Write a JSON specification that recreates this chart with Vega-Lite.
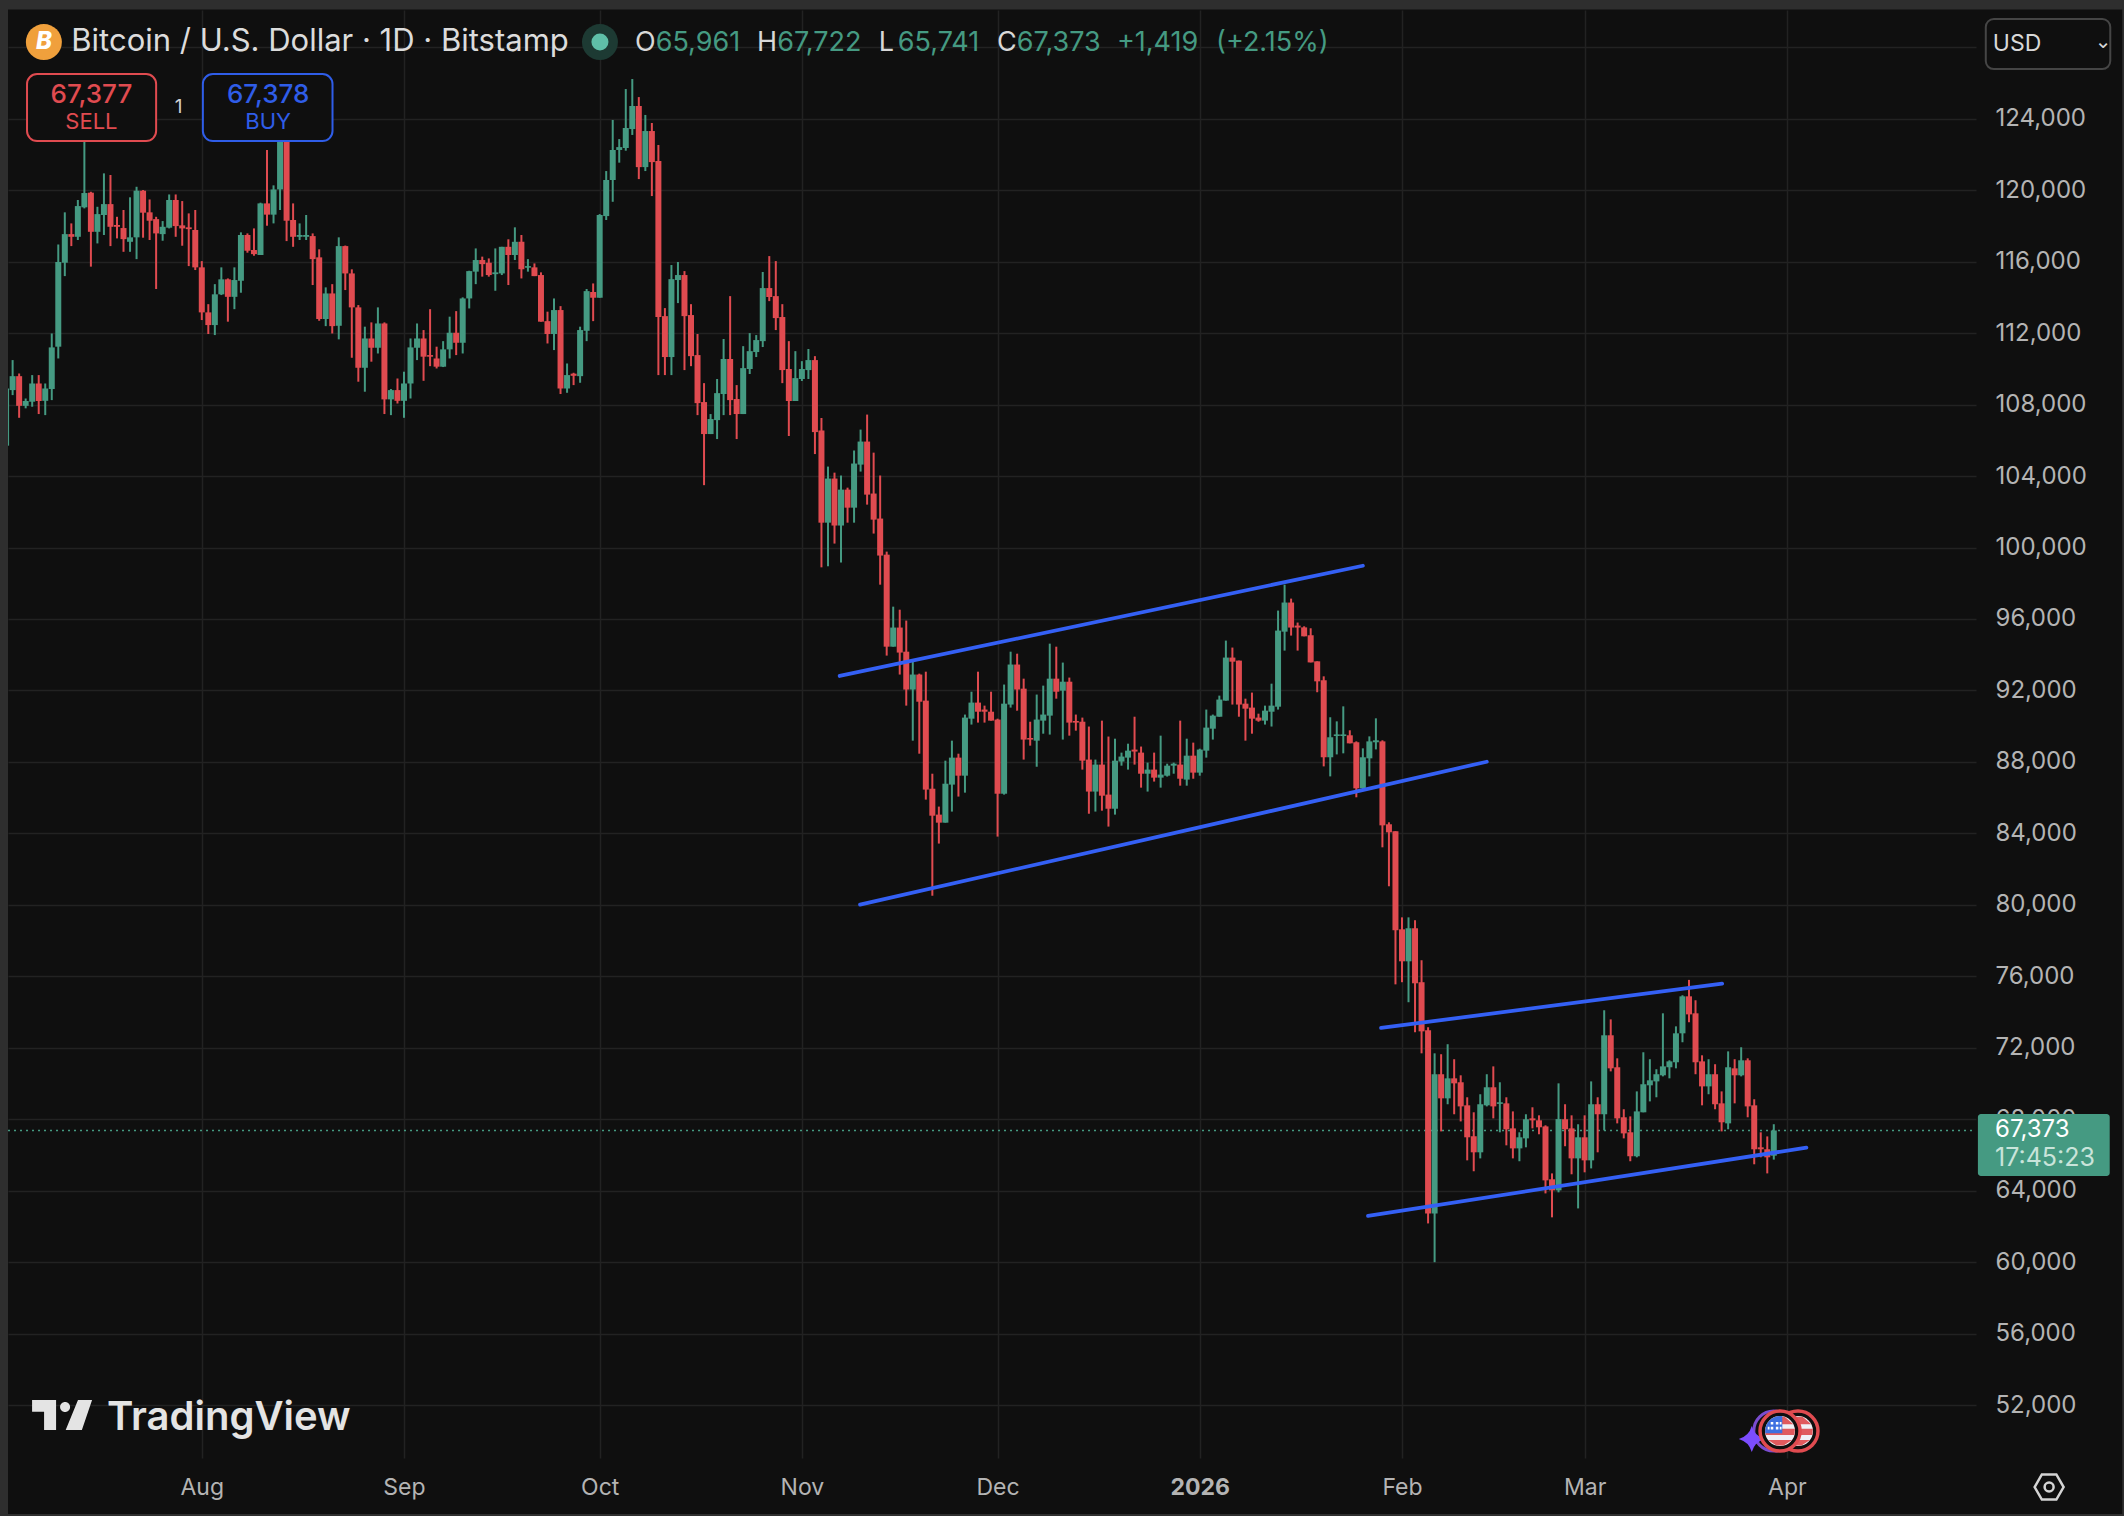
{
  "$schema": "https://vega.github.io/schema/vega-lite/v6.json",
  "width": 1968,
  "height": 1448,
  "autosize": "none",
  "padding": {"left": 8, "top": 10, "right": 148, "bottom": 58},
  "background": "#0f0f0f",
  "config": {"view": {"stroke": null}, "font": "Inter", "text": {"font": "Inter"}},
  "datasets": {
    "candles": [
      {"d":"2025-07-02","o":105700,"h":109800,"l":105100,"c":108900},
      {"d":"2025-07-03","o":108810,"h":110490,"l":108530,"c":109590},
      {"d":"2025-07-04","o":109590,"h":109740,"l":107260,"c":107930},
      {"d":"2025-07-05","o":107930,"h":108340,"l":107790,"c":108200},
      {"d":"2025-07-06","o":108160,"h":109650,"l":107880,"c":109180},
      {"d":"2025-07-07","o":109180,"h":109650,"l":107470,"c":108200},
      {"d":"2025-07-08","o":108210,"h":109180,"l":107410,"c":108900},
      {"d":"2025-07-09","o":108870,"h":111980,"l":108250,"c":111200},
      {"d":"2025-07-10","o":111240,"h":116960,"l":110580,"c":115980},
      {"d":"2025-07-11","o":115940,"h":118760,"l":115190,"c":117540},
      {"d":"2025-07-12","o":117540,"h":118140,"l":116870,"c":117390},
      {"d":"2025-07-13","o":117390,"h":119450,"l":117210,"c":119110},
      {"d":"2025-07-14","o":119040,"h":122990,"l":118980,"c":119840},
      {"d":"2025-07-15","o":119860,"h":119910,"l":115720,"c":117670},
      {"d":"2025-07-16","o":117670,"h":119070,"l":117020,"c":118660},
      {"d":"2025-07-17","o":118610,"h":120940,"l":117490,"c":119220},
      {"d":"2025-07-18","o":119220,"h":120850,"l":116870,"c":117950},
      {"d":"2025-07-19","o":118050,"h":118510,"l":117300,"c":117950},
      {"d":"2025-07-20","o":117880,"h":118890,"l":116550,"c":117260},
      {"d":"2025-07-21","o":117110,"h":119600,"l":116550,"c":117360},
      {"d":"2025-07-22","o":117360,"h":120190,"l":116140,"c":119970},
      {"d":"2025-07-23","o":119970,"h":120010,"l":117340,"c":118740},
      {"d":"2025-07-24","o":118760,"h":119480,"l":117210,"c":118290},
      {"d":"2025-07-25","o":118380,"h":118510,"l":114470,"c":117580},
      {"d":"2025-07-26","o":117540,"h":118270,"l":117170,"c":117950},
      {"d":"2025-07-27","o":117900,"h":119760,"l":117860,"c":119450},
      {"d":"2025-07-28","o":119450,"h":119760,"l":117390,"c":117990},
      {"d":"2025-07-29","o":118030,"h":119390,"l":116890,"c":117860},
      {"d":"2025-07-30","o":117920,"h":118700,"l":115750,"c":117820},
      {"d":"2025-07-31","o":117770,"h":118890,"l":115530,"c":115680},
      {"d":"2025-08-01","o":115680,"h":116030,"l":112730,"c":113160},
      {"d":"2025-08-02","o":113160,"h":113620,"l":111950,"c":112450},
      {"d":"2025-08-03","o":112450,"h":114740,"l":111890,"c":114170},
      {"d":"2025-08-04","o":114170,"h":115680,"l":114130,"c":115010},
      {"d":"2025-08-05","o":115010,"h":115060,"l":112640,"c":114030},
      {"d":"2025-08-06","o":114030,"h":115680,"l":113340,"c":114970},
      {"d":"2025-08-07","o":114930,"h":117640,"l":114260,"c":117490},
      {"d":"2025-08-08","o":117490,"h":117580,"l":116500,"c":116610},
      {"d":"2025-08-09","o":116650,"h":117860,"l":116330,"c":116420},
      {"d":"2025-08-10","o":116370,"h":119300,"l":116370,"c":119260},
      {"d":"2025-08-11","o":119260,"h":122250,"l":118010,"c":118630},
      {"d":"2025-08-12","o":118630,"h":120270,"l":118140,"c":120040},
      {"d":"2025-08-13","o":120040,"h":123550,"l":118890,"c":123000},
      {"d":"2025-08-14","o":123000,"h":123550,"l":117150,"c":118290},
      {"d":"2025-08-15","o":118330,"h":119260,"l":116830,"c":117390},
      {"d":"2025-08-16","o":117390,"h":118140,"l":117210,"c":117490},
      {"d":"2025-08-17","o":117390,"h":118610,"l":117210,"c":117490},
      {"d":"2025-08-18","o":117430,"h":117580,"l":114690,"c":116140},
      {"d":"2025-08-19","o":116240,"h":116690,"l":112690,"c":112790},
      {"d":"2025-08-20","o":112790,"h":114560,"l":112390,"c":114220},
      {"d":"2025-08-21","o":114220,"h":114740,"l":111980,"c":112390},
      {"d":"2025-08-22","o":112410,"h":117360,"l":111650,"c":116870},
      {"d":"2025-08-23","o":116870,"h":116900,"l":114410,"c":115340},
      {"d":"2025-08-24","o":115340,"h":115570,"l":110620,"c":113440},
      {"d":"2025-08-25","o":113440,"h":113570,"l":109280,"c":110060},
      {"d":"2025-08-26","o":110060,"h":112360,"l":108720,"c":111700},
      {"d":"2025-08-27","o":111700,"h":112600,"l":110400,"c":111180},
      {"d":"2025-08-28","o":111180,"h":113440,"l":110860,"c":112540},
      {"d":"2025-08-29","o":112540,"h":112600,"l":107470,"c":108290},
      {"d":"2025-08-30","o":108290,"h":108870,"l":107410,"c":108810},
      {"d":"2025-08-31","o":108810,"h":109460,"l":108060,"c":108210},
      {"d":"2025-09-01","o":108210,"h":109840,"l":107260,"c":109180},
      {"d":"2025-09-02","o":109180,"h":111700,"l":108340,"c":111200},
      {"d":"2025-09-03","o":111180,"h":112540,"l":110490,"c":111700},
      {"d":"2025-09-04","o":111700,"h":112170,"l":109330,"c":110680},
      {"d":"2025-09-05","o":110770,"h":113340,"l":110150,"c":110680},
      {"d":"2025-09-06","o":110580,"h":111240,"l":110020,"c":110120},
      {"d":"2025-09-07","o":110120,"h":111550,"l":110100,"c":111090},
      {"d":"2025-09-08","o":111090,"h":112920,"l":110580,"c":112020},
      {"d":"2025-09-09","o":112020,"h":113230,"l":110770,"c":111460},
      {"d":"2025-09-10","o":111460,"h":114000,"l":110860,"c":113940},
      {"d":"2025-09-11","o":113940,"h":115490,"l":113380,"c":115470},
      {"d":"2025-09-12","o":115440,"h":116740,"l":114740,"c":116090},
      {"d":"2025-09-13","o":116090,"h":116280,"l":115160,"c":115860},
      {"d":"2025-09-14","o":115940,"h":116180,"l":115160,"c":115250},
      {"d":"2025-09-15","o":115300,"h":116740,"l":114370,"c":115400},
      {"d":"2025-09-16","o":115340,"h":116830,"l":115250,"c":116830},
      {"d":"2025-09-17","o":116830,"h":117250,"l":114690,"c":116370},
      {"d":"2025-09-18","o":116370,"h":117920,"l":116090,"c":117110},
      {"d":"2025-09-19","o":117110,"h":117490,"l":115060,"c":115580},
      {"d":"2025-09-20","o":115660,"h":116140,"l":115440,"c":115750},
      {"d":"2025-09-21","o":115680,"h":115900,"l":115190,"c":115190},
      {"d":"2025-09-22","o":115250,"h":115400,"l":112640,"c":112640},
      {"d":"2025-09-23","o":112670,"h":113200,"l":111420,"c":111950},
      {"d":"2025-09-24","o":111950,"h":113940,"l":111050,"c":113290},
      {"d":"2025-09-25","o":113290,"h":113510,"l":108590,"c":108900},
      {"d":"2025-09-26","o":108900,"h":110300,"l":108660,"c":109650},
      {"d":"2025-09-27","o":109730,"h":109780,"l":109090,"c":109610},
      {"d":"2025-09-28","o":109590,"h":112360,"l":109220,"c":112170},
      {"d":"2025-09-29","o":112130,"h":114470,"l":111550,"c":114350},
      {"d":"2025-09-30","o":114300,"h":114780,"l":112670,"c":113980},
      {"d":"2025-10-01","o":113980,"h":118660,"l":113980,"c":118610},
      {"d":"2025-10-02","o":118550,"h":121070,"l":118330,"c":120570},
      {"d":"2025-10-03","o":120570,"h":123930,"l":119350,"c":122250},
      {"d":"2025-10-04","o":122250,"h":122860,"l":121540,"c":122410},
      {"d":"2025-10-05","o":122360,"h":125660,"l":122210,"c":123480},
      {"d":"2025-10-06","o":123420,"h":126220,"l":123090,"c":124710},
      {"d":"2025-10-07","o":124710,"h":125210,"l":120620,"c":121290},
      {"d":"2025-10-08","o":121290,"h":124210,"l":121070,"c":123310},
      {"d":"2025-10-09","o":123310,"h":123760,"l":119670,"c":121570},
      {"d":"2025-10-10","o":121630,"h":122530,"l":109650,"c":112900},
      {"d":"2025-10-11","o":112950,"h":113400,"l":109650,"c":110660},
      {"d":"2025-10-12","o":110660,"h":115810,"l":109650,"c":115020},
      {"d":"2025-10-13","o":114970,"h":115980,"l":113680,"c":115250},
      {"d":"2025-10-14","o":115250,"h":115470,"l":109930,"c":112950},
      {"d":"2025-10-15","o":113010,"h":113620,"l":110150,"c":110710},
      {"d":"2025-10-16","o":110770,"h":111950,"l":107410,"c":108080},
      {"d":"2025-10-17","o":108140,"h":109200,"l":103490,"c":106350},
      {"d":"2025-10-18","o":106350,"h":107470,"l":106350,"c":107190},
      {"d":"2025-10-19","o":107130,"h":109430,"l":106070,"c":108640},
      {"d":"2025-10-20","o":108590,"h":111670,"l":107410,"c":110550},
      {"d":"2025-10-21","o":110550,"h":114070,"l":107410,"c":108250},
      {"d":"2025-10-22","o":108310,"h":109090,"l":106070,"c":107470},
      {"d":"2025-10-23","o":107470,"h":111270,"l":107470,"c":110040},
      {"d":"2025-10-24","o":109990,"h":112000,"l":109710,"c":110990},
      {"d":"2025-10-25","o":110940,"h":111890,"l":110660,"c":111610},
      {"d":"2025-10-26","o":111550,"h":115420,"l":111220,"c":114520},
      {"d":"2025-10-27","o":114520,"h":116310,"l":113790,"c":114020},
      {"d":"2025-10-28","o":114070,"h":116030,"l":112170,"c":112840},
      {"d":"2025-10-29","o":112900,"h":113620,"l":109200,"c":109930},
      {"d":"2025-10-30","o":109990,"h":111550,"l":106240,"c":108200},
      {"d":"2025-10-31","o":108200,"h":110990,"l":108200,"c":109480},
      {"d":"2025-11-01","o":109430,"h":110430,"l":109320,"c":109990},
      {"d":"2025-11-02","o":109930,"h":111110,"l":109430,"c":110490},
      {"d":"2025-11-03","o":110490,"h":110710,"l":105230,"c":106460},
      {"d":"2025-11-04","o":106550,"h":107250,"l":98890,"c":101390},
      {"d":"2025-11-05","o":101390,"h":104530,"l":98950,"c":103860},
      {"d":"2025-11-06","o":103860,"h":104190,"l":100220,"c":101230},
      {"d":"2025-11-07","o":101230,"h":104030,"l":99160,"c":103240},
      {"d":"2025-11-08","o":103240,"h":103350,"l":101390,"c":102230},
      {"d":"2025-11-09","o":102230,"h":105430,"l":101390,"c":104700},
      {"d":"2025-11-10","o":104640,"h":106600,"l":104250,"c":105930},
      {"d":"2025-11-11","o":105930,"h":107440,"l":102400,"c":102960},
      {"d":"2025-11-12","o":103020,"h":105310,"l":100780,"c":101560},
      {"d":"2025-11-13","o":101620,"h":104030,"l":97920,"c":99550},
      {"d":"2025-11-14","o":99600,"h":99770,"l":93950,"c":94450},
      {"d":"2025-11-15","o":94450,"h":96690,"l":94450,"c":95520},
      {"d":"2025-11-16","o":95520,"h":96520,"l":92890,"c":94120},
      {"d":"2025-11-17","o":94170,"h":95910,"l":91150,"c":92050},
      {"d":"2025-11-18","o":92050,"h":93730,"l":89190,"c":92890},
      {"d":"2025-11-19","o":92890,"h":92940,"l":88460,"c":91370},
      {"d":"2025-11-20","o":91430,"h":93050,"l":85890,"c":86450},
      {"d":"2025-11-21","o":86500,"h":87340,"l":80510,"c":84990},
      {"d":"2025-11-22","o":85050,"h":85500,"l":83430,"c":84600},
      {"d":"2025-11-23","o":84600,"h":88070,"l":84600,"c":86780},
      {"d":"2025-11-24","o":86730,"h":89190,"l":85220,"c":88240},
      {"d":"2025-11-25","o":88240,"h":88460,"l":86060,"c":87230},
      {"d":"2025-11-26","o":87230,"h":90650,"l":86280,"c":90480},
      {"d":"2025-11-27","o":90420,"h":91930,"l":90090,"c":91320},
      {"d":"2025-11-28","o":91320,"h":93050,"l":90200,"c":90810},
      {"d":"2025-11-29","o":90930,"h":91150,"l":90200,"c":90810},
      {"d":"2025-11-30","o":90810,"h":91930,"l":90310,"c":90310},
      {"d":"2025-12-01","o":90370,"h":90420,"l":83820,"c":86220},
      {"d":"2025-12-02","o":86220,"h":92330,"l":86170,"c":91260},
      {"d":"2025-12-03","o":91210,"h":94170,"l":91040,"c":93450},
      {"d":"2025-12-04","o":93450,"h":94060,"l":90870,"c":92050},
      {"d":"2025-12-05","o":92100,"h":92660,"l":88130,"c":89250},
      {"d":"2025-12-06","o":89340,"h":90250,"l":88910,"c":89250},
      {"d":"2025-12-07","o":89190,"h":91770,"l":87730,"c":90370},
      {"d":"2025-12-08","o":90310,"h":92270,"l":89580,"c":90650},
      {"d":"2025-12-09","o":90590,"h":94620,"l":89530,"c":92660},
      {"d":"2025-12-10","o":92660,"h":94450,"l":91540,"c":91930},
      {"d":"2025-12-11","o":91990,"h":93560,"l":89250,"c":92490},
      {"d":"2025-12-12","o":92490,"h":92720,"l":89470,"c":90200},
      {"d":"2025-12-13","o":90290,"h":90650,"l":89750,"c":90200},
      {"d":"2025-12-14","o":90250,"h":90480,"l":87570,"c":88070},
      {"d":"2025-12-15","o":88130,"h":89980,"l":85100,"c":86340},
      {"d":"2025-12-16","o":86340,"h":88130,"l":85220,"c":87850},
      {"d":"2025-12-17","o":87850,"h":90310,"l":85270,"c":86110},
      {"d":"2025-12-18","o":86170,"h":89420,"l":84380,"c":85380},
      {"d":"2025-12-19","o":85380,"h":89300,"l":85050,"c":88070},
      {"d":"2025-12-20","o":88020,"h":88520,"l":87790,"c":88300},
      {"d":"2025-12-21","o":88240,"h":89020,"l":87570,"c":88630},
      {"d":"2025-12-22","o":88690,"h":90530,"l":87850,"c":88580},
      {"d":"2025-12-23","o":88520,"h":88860,"l":86560,"c":87340},
      {"d":"2025-12-24","o":87340,"h":87960,"l":86340,"c":87570},
      {"d":"2025-12-25","o":87570,"h":88520,"l":86900,"c":87120},
      {"d":"2025-12-26","o":87120,"h":89470,"l":86560,"c":87290},
      {"d":"2025-12-27","o":87230,"h":87900,"l":87180,"c":87790},
      {"d":"2025-12-28","o":87790,"h":87960,"l":87340,"c":87900},
      {"d":"2025-12-29","o":87850,"h":90310,"l":86670,"c":87060},
      {"d":"2025-12-30","o":87010,"h":89300,"l":86670,"c":88350},
      {"d":"2025-12-31","o":88350,"h":89080,"l":87060,"c":87400},
      {"d":"2026-01-01","o":87400,"h":88740,"l":87230,"c":88690},
      {"d":"2026-01-02","o":88630,"h":90930,"l":88240,"c":89920},
      {"d":"2026-01-03","o":89860,"h":90650,"l":89250,"c":90590},
      {"d":"2026-01-04","o":90530,"h":91710,"l":90530,"c":91490},
      {"d":"2026-01-05","o":91430,"h":94790,"l":91430,"c":93840},
      {"d":"2026-01-06","o":93840,"h":94400,"l":91210,"c":93610},
      {"d":"2026-01-07","o":93670,"h":93670,"l":90530,"c":91210},
      {"d":"2026-01-08","o":91260,"h":91540,"l":89190,"c":90980},
      {"d":"2026-01-09","o":91040,"h":91880,"l":89580,"c":90420},
      {"d":"2026-01-10","o":90480,"h":90700,"l":90250,"c":90310},
      {"d":"2026-01-11","o":90310,"h":91150,"l":90090,"c":90870},
      {"d":"2026-01-12","o":90810,"h":92380,"l":89980,"c":91150},
      {"d":"2026-01-13","o":91090,"h":96470,"l":90930,"c":95350},
      {"d":"2026-01-14","o":95290,"h":97920,"l":94230,"c":96920},
      {"d":"2026-01-15","o":96920,"h":97140,"l":95070,"c":95520},
      {"d":"2026-01-16","o":95630,"h":95800,"l":94230,"c":95520},
      {"d":"2026-01-17","o":95530,"h":95590,"l":95030,"c":95030},
      {"d":"2026-01-18","o":95090,"h":95480,"l":93570,"c":93570},
      {"d":"2026-01-19","o":93630,"h":93630,"l":91900,"c":92510},
      {"d":"2026-01-20","o":92570,"h":92790,"l":87750,"c":88260},
      {"d":"2026-01-21","o":88260,"h":90500,"l":87190,"c":89380},
      {"d":"2026-01-22","o":89450,"h":90270,"l":88420,"c":89540},
      {"d":"2026-01-23","o":89450,"h":91110,"l":88480,"c":89540},
      {"d":"2026-01-24","o":89490,"h":89770,"l":89040,"c":89040},
      {"d":"2026-01-25","o":89100,"h":89150,"l":86020,"c":86520},
      {"d":"2026-01-26","o":86520,"h":88760,"l":86410,"c":88260},
      {"d":"2026-01-27","o":88200,"h":89430,"l":87190,"c":89150},
      {"d":"2026-01-28","o":89100,"h":90440,"l":88700,"c":89210},
      {"d":"2026-01-29","o":89150,"h":89210,"l":83220,"c":84450},
      {"d":"2026-01-30","o":84510,"h":84620,"l":81040,"c":84060},
      {"d":"2026-01-31","o":84120,"h":84120,"l":75550,"c":78580},
      {"d":"2026-02-01","o":78630,"h":79300,"l":75670,"c":76840},
      {"d":"2026-02-02","o":76840,"h":79300,"l":74550,"c":78690},
      {"d":"2026-02-03","o":78690,"h":79140,"l":72870,"c":75610},
      {"d":"2026-02-04","o":75670,"h":76900,"l":71690,"c":72920},
      {"d":"2026-02-05","o":72980,"h":73150,"l":62170,"c":62730},
      {"d":"2026-02-06","o":62730,"h":71690,"l":60000,"c":70520},
      {"d":"2026-02-07","o":70520,"h":71640,"l":67320,"c":69170},
      {"d":"2026-02-08","o":69170,"h":72200,"l":68840,"c":70290},
      {"d":"2026-02-09","o":70290,"h":71360,"l":68280,"c":70010},
      {"d":"2026-02-10","o":70070,"h":70460,"l":67880,"c":68720},
      {"d":"2026-02-11","o":68780,"h":69230,"l":65700,"c":66990},
      {"d":"2026-02-12","o":67050,"h":68390,"l":65090,"c":66150},
      {"d":"2026-02-13","o":66150,"h":69400,"l":65810,"c":68840},
      {"d":"2026-02-14","o":68780,"h":70520,"l":68720,"c":69790},
      {"d":"2026-02-15","o":69790,"h":70960,"l":68050,"c":68720},
      {"d":"2026-02-16","o":68860,"h":70070,"l":67270,"c":68950},
      {"d":"2026-02-17","o":68890,"h":69230,"l":66540,"c":67440},
      {"d":"2026-02-18","o":67490,"h":68440,"l":65810,"c":66370},
      {"d":"2026-02-19","o":66370,"h":67270,"l":65650,"c":66990},
      {"d":"2026-02-20","o":66930,"h":68280,"l":66430,"c":68000},
      {"d":"2026-02-21","o":68050,"h":68670,"l":67490,"c":67940},
      {"d":"2026-02-22","o":67940,"h":68220,"l":67160,"c":67550},
      {"d":"2026-02-23","o":67600,"h":67660,"l":63850,"c":64580},
      {"d":"2026-02-24","o":64640,"h":64970,"l":62510,"c":64020},
      {"d":"2026-02-25","o":64020,"h":70010,"l":63910,"c":68010},
      {"d":"2026-02-26","o":68000,"h":68840,"l":66490,"c":67440},
      {"d":"2026-02-27","o":67490,"h":68220,"l":64920,"c":65810},
      {"d":"2026-02-28","o":65810,"h":67720,"l":63010,"c":66990},
      {"d":"2026-03-01","o":66990,"h":68220,"l":65030,"c":65700},
      {"d":"2026-03-02","o":65700,"h":70120,"l":65250,"c":68840},
      {"d":"2026-03-03","o":68840,"h":69230,"l":66150,"c":68280},
      {"d":"2026-03-04","o":68280,"h":74100,"l":67380,"c":72700},
      {"d":"2026-03-05","o":72700,"h":73590,"l":70680,"c":70850},
      {"d":"2026-03-06","o":70910,"h":71410,"l":67770,"c":68050},
      {"d":"2026-03-07","o":68110,"h":68560,"l":66930,"c":67210},
      {"d":"2026-03-08","o":67270,"h":68160,"l":65650,"c":65930},
      {"d":"2026-03-09","o":65930,"h":69560,"l":65870,"c":68440},
      {"d":"2026-03-10","o":68390,"h":71750,"l":68390,"c":69960},
      {"d":"2026-03-11","o":69900,"h":71360,"l":69000,"c":70180},
      {"d":"2026-03-12","o":70120,"h":70800,"l":69230,"c":70520},
      {"d":"2026-03-13","o":70460,"h":73930,"l":70400,"c":70960},
      {"d":"2026-03-14","o":70910,"h":71300,"l":70290,"c":71240},
      {"d":"2026-03-15","o":71190,"h":73200,"l":70850,"c":72810},
      {"d":"2026-03-16","o":72810,"h":74940,"l":72310,"c":74880},
      {"d":"2026-03-17","o":74880,"h":75800,"l":73430,"c":73870},
      {"d":"2026-03-18","o":73930,"h":74660,"l":70520,"c":71190},
      {"d":"2026-03-19","o":71240,"h":71580,"l":68780,"c":69840},
      {"d":"2026-03-20","o":69840,"h":71360,"l":69400,"c":70520},
      {"d":"2026-03-21","o":70520,"h":71080,"l":68560,"c":68840},
      {"d":"2026-03-22","o":68890,"h":69560,"l":67320,"c":67830},
      {"d":"2026-03-23","o":67770,"h":71800,"l":67440,"c":70910},
      {"d":"2026-03-24","o":70850,"h":71360,"l":68890,"c":70460},
      {"d":"2026-03-25","o":70460,"h":72030,"l":70400,"c":71300},
      {"d":"2026-03-26","o":71300,"h":71410,"l":68110,"c":68720},
      {"d":"2026-03-27","o":68780,"h":69120,"l":65480,"c":66320},
      {"d":"2026-03-28","o":66430,"h":67270,"l":65870,"c":66320},
      {"d":"2026-03-29","o":66320,"h":67040,"l":64970,"c":65870},
      {"d":"2026-03-30","o":65961,"h":67722,"l":65741,"c":67373}
    ],
    "trendlines": [
      {"id":"upper1","d":"2025-11-06T19:00:00Z","p":92810},
      {"id":"upper1","d":"2026-01-26T00:00:00Z","p":98980},
      {"id":"lower1","d":"2025-11-09T22:00:00Z","p":80010},
      {"id":"lower1","d":"2026-02-14T00:00:00Z","p":88010},
      {"id":"upper2","d":"2026-01-28T19:00:00Z","p":73110},
      {"id":"upper2","d":"2026-03-22T02:00:00Z","p":75590},
      {"id":"lower2","d":"2026-01-26T19:00:00Z","p":62590},
      {"id":"lower2","d":"2026-04-04T00:00:00Z","p":66410}
    ],
    "frame": [
      {"d":"2025-06-28","d2":"2025-07-02T07:00:00Z","p":45000,"p2":131500},
      {"d":"2025-06-28","d2":"2026-06-01","p":130110,"p2":131500},
      {"d":"2026-05-22T10:00:00Z","d2":"2026-06-01","p":45000,"p2":131500},
      {"d":"2025-06-28","d2":"2026-06-01","p":45000,"p2":45905}
    ],
    "boxes": [
      {"kind":"sell","d":"2025-07-05T05:00:00Z","d2":"2025-07-25","p":122750,"p2":126500},
      {"kind":"buy","d":"2025-08-01T04:00:00Z","d2":"2025-08-21T01:00:00Z","p":122750,"p2":126500},
      {"kind":"usd","d":"2026-05-01T12:00:00Z","d2":"2026-05-20T14:00:00Z","p":126780,"p2":129580},
      {"kind":"tag","d":"2026-04-30T07:00:00Z","d2":"2026-05-20T12:00:00Z","p":64820,"p2":68290}
    ],
    "labels": [
      {"kind":"last","d":"2025-07-02T07:00:00Z","d2":"2026-04-30","p":67373},
      {"kind":"title","d":"2025-07-12","p":128290,"t":"Bitcoin / U.S. Dollar · 1D · Bitstamp"},
      {"kind":"coin","d":"2025-07-07T19:00:00Z","p":128290},
      {"kind":"coinGlyph","d":"2025-07-07T19:00:00Z","p":128290,"t":"B"},
      {"kind":"status","d":"2025-10-01T01:00:00Z","p":128290},
      {"kind":"ohlcLetter","d":"2025-10-06T10:00:00Z","p":128240,"t":"O"},
      {"kind":"ohlcValue","d":"2025-10-09T14:00:00Z","p":128240,"t":"65,961"},
      {"kind":"ohlcLetter","d":"2025-10-25T03:00:00Z","p":128240,"t":"H"},
      {"kind":"ohlcValue","d":"2025-10-28T05:00:00Z","p":128240,"t":"67,722"},
      {"kind":"ohlcLetter","d":"2025-11-12T19:00:00Z","p":128240,"t":"L"},
      {"kind":"ohlcValue","d":"2025-11-15T17:00:00Z","p":128240,"t":"65,741"},
      {"kind":"ohlcLetter","d":"2025-11-30T22:00:00Z","p":128240,"t":"C"},
      {"kind":"ohlcValue","d":"2025-12-03T23:00:00Z","p":128240,"t":"67,373"},
      {"kind":"ohlcValue","d":"2025-12-19T07:00:00Z","p":128240,"t":"+1,419"},
      {"kind":"ohlcValue","d":"2026-01-03T12:00:00Z","p":128240,"t":"(+2.15%)"},
      {"kind":"sellPrice","d":"2025-07-15T02:00:00Z","p":125330,"t":"67,377"},
      {"kind":"sellText","d":"2025-07-15T02:00:00Z","p":123820,"t":"SELL"},
      {"kind":"buyPrice","d":"2025-08-11T04:00:00Z","p":125330,"t":"67,378"},
      {"kind":"buyText","d":"2025-08-11T04:00:00Z","p":123820,"t":"BUY"},
      {"kind":"qty","d":"2025-07-28T11:00:00Z","p":124660,"t":"1"},
      {"kind":"usd","d":"2026-05-02T14:00:00Z","p":128180,"t":"USD"},
      {"kind":"chevron","d":"2026-05-19T12:00:00Z","p":128300,"t":"⌄"},
      {"kind":"tagPrice","d":"2026-05-02T22:00:00Z","p":67373,"t":"67,373"},
      {"kind":"tagClock","d":"2026-05-02T22:00:00Z","p":65830,"t":"17:45:23"},
      {"kind":"logo","d":"2025-07-10T14:00:00Z","p":51445},
      {"kind":"brand","d":"2025-07-17T11:00:00Z","p":50606,"t":"TradingView"},
      {"kind":"sparkle","d":"2026-03-26T15:00:00Z","p":50103},
      {"kind":"ringPurple","d":"2026-03-30T00:00:00Z","p":50550},
      {"kind":"ringBack","d":"2026-04-02T17:00:00Z","p":50550},
      {"kind":"flagBack","d":"2026-04-02T17:00:00Z","p":50550},
      {"kind":"ringFront","d":"2026-03-30T23:00:00Z","p":50550},
      {"kind":"flagFront","d":"2026-03-30T23:00:00Z","p":50550},
      {"kind":"canton","d":"2026-03-30T23:00:00Z","p":50550},
      {"kind":"gear","d":"2026-05-11T05:00:00Z","p":47416}
    ]
  },
  "encoding": {
    "x": {
      "field": "d",
      "type": "temporal",
      "title": null,
      "scale": {"type": "utc", "padding": 0, "domain": ["2025-07-02T07:00:00Z", "2026-04-30T00:00:00Z"]},
      "axis": {
        "values": ["2025-08-01", "2025-09-01", "2025-10-01", "2025-11-01", "2025-12-01", "2026-01-01", "2026-02-01", "2026-03-01", "2026-04-01"],
        "labelExpr": "utcmonth(datum.value) == 0 ? '2026' : utcFormat(datum.value, '%b')",
        "labelFontWeight": {"condition": {"test": "utcmonth(datum.value) == 0", "value": 700}, "value": 400},
        "ticks": false,
        "domain": false,
        "grid": true,
        "gridColor": "#222222",
        "gridWidth": 1.5,
        "labelColor": "#b4b4b4",
        "labelFontSize": 23,
        "labelFont": "Inter",
        "labelPadding": 18,
        "labelBaseline": "top",
        "labelOverlap": false
      }
    },
    "y": {
      "field": "p",
      "type": "quantitative",
      "title": null,
      "scale": {"domain": [49041, 130084], "zero": false, "nice": false},
      "axis": {
        "orient": "right",
        "values": [52000, 56000, 60000, 64000, 68000, 72000, 76000, 80000, 84000, 88000, 92000, 96000, 100000, 104000, 108000, 112000, 116000, 120000, 124000, 128000],
        "labelExpr": "datum.value == 128000 ? '' : format(datum.value, ',d')",
        "ticks": false,
        "domain": false,
        "grid": true,
        "gridColor": "#222222",
        "gridWidth": 1.5,
        "labelColor": "#b4b4b4",
        "labelFontSize": 24,
        "labelFont": "Inter",
        "labelPadding": 19,
        "labelOverlap": false
      }
    }
  },
  "layer": [
    {
      "data": {"name": "labels"},
      "transform": [{"filter": "datum.kind == 'last'"}],
      "mark": {"type": "rule", "color": "#459a82", "strokeWidth": 1.5, "strokeDash": [2, 4]},
      "encoding": {"x2": {"field": "d2"}}
    },
    {
      "data": {"name": "candles"},
      "mark": {"type": "rule", "strokeWidth": 2},
      "encoding": {
        "y": {"field": "l", "type": "quantitative", "title": null, "axis": {"orient": "right"}},
        "y2": {"field": "h"},
        "color": {"condition": {"test": "datum.c >= datum.o", "value": "#459a82"}, "value": "#e04b50"}
      }
    },
    {
      "data": {"name": "candles"},
      "mark": {"type": "bar", "size": 6},
      "encoding": {
        "y": {"field": "o", "type": "quantitative", "title": null, "axis": {"orient": "right"}},
        "y2": {"field": "c"},
        "color": {"condition": {"test": "datum.c >= datum.o", "value": "#459a82"}, "value": "#e04b50"}
      }
    },
    {
      "data": {"name": "trendlines"},
      "mark": {"type": "line", "color": "#3460f5", "strokeWidth": 3.8, "strokeCap": "round"},
      "encoding": {"detail": {"field": "id"}}
    },
    {
      "data": {"name": "boxes"},
      "transform": [{"filter": "datum.kind == 'sell'"}],
      "mark": {"type": "rect", "fill": "#0f0f0f", "stroke": "#e04b50", "strokeWidth": 2, "cornerRadius": 10},
      "encoding": {"x2": {"field": "d2"}, "y2": {"field": "p2"}}
    },
    {
      "data": {"name": "boxes"},
      "transform": [{"filter": "datum.kind == 'buy'"}],
      "mark": {"type": "rect", "fill": "#0f0f0f", "stroke": "#2f5de8", "strokeWidth": 2, "cornerRadius": 10},
      "encoding": {"x2": {"field": "d2"}, "y2": {"field": "p2"}}
    },
    {
      "data": {"name": "boxes"},
      "transform": [{"filter": "datum.kind == 'usd'"}],
      "mark": {"type": "rect", "fill": "#0f0f0f", "stroke": "#454545", "strokeWidth": 2, "cornerRadius": 8},
      "encoding": {"x2": {"field": "d2"}, "y2": {"field": "p2"}}
    },
    {
      "data": {"name": "boxes"},
      "transform": [{"filter": "datum.kind == 'tag'"}],
      "mark": {"type": "rect", "fill": "#459a82", "cornerRadius": 3},
      "encoding": {"x2": {"field": "d2"}, "y2": {"field": "p2"}}
    },
    {
      "data": {"name": "frame"},
      "mark": {"type": "rect", "fill": "#2e2e2e"},
      "encoding": {"x2": {"field": "d2"}, "y2": {"field": "p2"}}
    },
    {
      "data": {"name": "labels"},
      "transform": [{"filter": "datum.kind == 'coin'"}],
      "mark": {"type": "point", "shape": "circle", "filled": true, "size": 1296, "opacity": 1, "color": "#f0a03c"}
    },
    {
      "data": {"name": "labels"},
      "transform": [{"filter": "datum.kind == 'coinGlyph'"}],
      "mark": {"type": "text", "font": "Inter", "fontSize": 24, "fontWeight": 800, "fontStyle": "italic", "color": "#ffffff", "align": "center", "baseline": "middle"},
      "encoding": {"text": {"field": "t"}}
    },
    {
      "data": {"name": "labels"},
      "transform": [{"filter": "datum.kind == 'title'"}],
      "mark": {"type": "text", "font": "Inter", "fontSize": 31, "color": "#dcdcdc", "align": "left", "baseline": "middle"},
      "encoding": {"text": {"field": "t"}}
    },
    {
      "data": {"name": "labels"},
      "transform": [{"filter": "datum.kind == 'status'"}],
      "mark": {"type": "point", "shape": "circle", "filled": true, "size": 1296, "opacity": 1, "color": "#1d3a33"}
    },
    {
      "data": {"name": "labels"},
      "transform": [{"filter": "datum.kind == 'status'"}],
      "mark": {"type": "point", "shape": "circle", "filled": true, "size": 289, "opacity": 1, "color": "#5fbfa8"}
    },
    {
      "data": {"name": "labels"},
      "transform": [{"filter": "datum.kind == 'ohlcLetter'"}],
      "mark": {"type": "text", "font": "Inter", "fontSize": 27, "color": "#d8d8d8", "align": "left", "baseline": "middle"},
      "encoding": {"text": {"field": "t"}}
    },
    {
      "data": {"name": "labels"},
      "transform": [{"filter": "datum.kind == 'ohlcValue'"}],
      "mark": {"type": "text", "font": "Inter", "fontSize": 27, "color": "#459a82", "align": "left", "baseline": "middle"},
      "encoding": {"text": {"field": "t"}}
    },
    {
      "data": {"name": "labels"},
      "transform": [{"filter": "datum.kind == 'sellPrice'"}],
      "mark": {"type": "text", "font": "Inter", "fontSize": 26, "fontWeight": 500, "color": "#e04b50", "align": "center", "baseline": "middle"},
      "encoding": {"text": {"field": "t"}}
    },
    {
      "data": {"name": "labels"},
      "transform": [{"filter": "datum.kind == 'sellText'"}],
      "mark": {"type": "text", "font": "Inter", "fontSize": 22, "color": "#e04b50", "align": "center", "baseline": "middle"},
      "encoding": {"text": {"field": "t"}}
    },
    {
      "data": {"name": "labels"},
      "transform": [{"filter": "datum.kind == 'buyPrice'"}],
      "mark": {"type": "text", "font": "Inter", "fontSize": 26, "fontWeight": 500, "color": "#2f5de8", "align": "center", "baseline": "middle"},
      "encoding": {"text": {"field": "t"}}
    },
    {
      "data": {"name": "labels"},
      "transform": [{"filter": "datum.kind == 'buyText'"}],
      "mark": {"type": "text", "font": "Inter", "fontSize": 22, "color": "#2f5de8", "align": "center", "baseline": "middle"},
      "encoding": {"text": {"field": "t"}}
    },
    {
      "data": {"name": "labels"},
      "transform": [{"filter": "datum.kind == 'qty'"}],
      "mark": {"type": "text", "font": "Inter", "fontSize": 19, "color": "#d0d0d0", "align": "center", "baseline": "middle"},
      "encoding": {"text": {"field": "t"}}
    },
    {
      "data": {"name": "labels"},
      "transform": [{"filter": "datum.kind == 'usd'"}],
      "mark": {"type": "text", "font": "Inter", "fontSize": 23, "color": "#d8d8d8", "align": "left", "baseline": "middle"},
      "encoding": {"text": {"field": "t"}}
    },
    {
      "data": {"name": "labels"},
      "transform": [{"filter": "datum.kind == 'chevron'"}],
      "mark": {"type": "text", "font": "DejaVu Sans", "fontSize": 20, "color": "#d8d8d8", "align": "center", "baseline": "middle"},
      "encoding": {"text": {"field": "t"}}
    },
    {
      "data": {"name": "labels"},
      "transform": [{"filter": "datum.kind == 'tagPrice'"}],
      "mark": {"type": "text", "font": "Inter", "fontSize": 24, "color": "#ffffff", "align": "left", "baseline": "middle"},
      "encoding": {"text": {"field": "t"}}
    },
    {
      "data": {"name": "labels"},
      "transform": [{"filter": "datum.kind == 'tagClock'"}],
      "mark": {"type": "text", "font": "Inter", "fontSize": 25, "color": "#c9e4da", "align": "left", "baseline": "middle"},
      "encoding": {"text": {"field": "t"}}
    },
    {
      "data": {"name": "labels"},
      "transform": [{"filter": "datum.kind == 'logo'"}],
      "mark": {
        "type": "point",
        "filled": true,
        "opacity": 1,
        "color": "#e4e4e4",
        "size": 3600,
        "shape": "M-1,-.5 H-.2 V.5 H-.6 V-.11 H-1 Z M.53,-.5 H1 L.66,.5 H.12 Z M-.067,-.27 a.167,.167 0 1 0 .334,0 a.167,.167 0 1 0 -.334,0 Z"
      }
    },
    {
      "data": {"name": "labels"},
      "transform": [{"filter": "datum.kind == 'brand'"}],
      "mark": {"type": "text", "font": "Inter", "fontSize": 40, "fontWeight": 600, "color": "#e4e4e4", "align": "left", "baseline": "alphabetic"},
      "encoding": {"text": {"field": "t"}}
    },
    {
      "data": {"name": "labels"},
      "transform": [{"filter": "datum.kind == 'ringPurple'"}],
      "mark": {"type": "point", "shape": "circle", "filled": false, "size": 1600, "opacity": 1, "stroke": "#7a4cd0", "strokeWidth": 3}
    },
    {
      "data": {"name": "labels"},
      "transform": [{"filter": "datum.kind == 'sparkle'"}],
      "mark": {"type": "point", "filled": true, "opacity": 1, "color": "#7c4dff", "size": 676, "shape": "M0,-1 Q.22,-.22 1,0 Q.22,.22 0,1 Q-.22,.22 -1,0 Q-.22,-.22 0,-1 Z"}
    },
    {
      "data": {"name": "labels"},
      "transform": [{"filter": "datum.kind == 'ringBack'"}],
      "mark": {"type": "point", "shape": "circle", "filled": true, "size": 1600, "opacity": 1, "fill": "#0f0f0f", "stroke": "#e04b50", "strokeWidth": 3.5}
    },
    {
      "data": {"name": "labels"},
      "transform": [{"filter": "datum.kind == 'flagBack'"}],
      "mark": {"type": "point", "shape": "circle", "filled": true, "size": 900, "opacity": 1, "color": "#f0f0f6"}
    },
    {
      "data": {"name": "labels"},
      "transform": [{"filter": "datum.kind == 'flagBack'"}],
      "mark": {"type": "point", "filled": true, "size": 900, "opacity": 1, "color": "#e05a5e", "shape": "M-.31,-.95 L.31,-.95 L.89,-.45 L-.89,-.45 Z M-.99,-.15 L.99,-.15 L.96,.27 L-.96,.27 Z M-.8,.6 L.8,.6 L.24,.97 L-.24,.97 Z"}
    },
    {
      "data": {"name": "labels"},
      "transform": [{"filter": "datum.kind == 'ringFront'"}],
      "mark": {"type": "point", "shape": "circle", "filled": true, "size": 1600, "opacity": 1, "fill": "#0f0f0f", "stroke": "#e04b50", "strokeWidth": 3.5}
    },
    {
      "data": {"name": "labels"},
      "transform": [{"filter": "datum.kind == 'flagFront'"}],
      "mark": {"type": "point", "shape": "circle", "filled": true, "size": 900, "opacity": 1, "color": "#f0f0f6"}
    },
    {
      "data": {"name": "labels"},
      "transform": [{"filter": "datum.kind == 'flagFront'"}],
      "mark": {"type": "point", "filled": true, "size": 900, "opacity": 1, "color": "#e05a5e", "shape": "M-.31,-.95 L.31,-.95 L.89,-.45 L-.89,-.45 Z M-.99,-.15 L.99,-.15 L.96,.27 L-.96,.27 Z M-.8,.6 L.8,.6 L.24,.97 L-.24,.97 Z"}
    },
    {
      "data": {"name": "labels"},
      "transform": [{"filter": "datum.kind == 'canton'"}],
      "mark": {"type": "point", "filled": true, "size": 900, "opacity": 1, "color": "#3d6fe0", "shape": "M.15,.15 L-.98,.15 A1,1 0 0 1 .15,-.99 Z"}
    },
    {
      "data": {"name": "labels"},
      "transform": [{"filter": "datum.kind == 'canton'"}],
      "mark": {"type": "point", "filled": true, "size": 900, "opacity": 1, "color": "#ffffff", "shape": "M-.62,-.6 h.17 v.17 h-.17 Z M-.28,-.6 h.17 v.17 h-.17 Z M-.62,-.28 h.17 v.17 h-.17 Z M-.28,-.28 h.17 v.17 h-.17 Z M-.82,-.28 h.12 v.17 h-.12 Z M-.02,-.6 h.12 v.17 h-.12 Z M-.02,-.28 h.12 v.17 h-.12 Z"}
    },
    {
      "data": {"name": "labels"},
      "transform": [{"filter": "datum.kind == 'gear'"}],
      "mark": {"type": "point", "filled": false, "size": 841, "opacity": 1, "stroke": "#d4d4d4", "strokeWidth": 2.5, "shape": "M-1,0 L-.5,-.866 L.5,-.866 L1,0 L.5,.866 L-.5,.866 Z"}
    },
    {
      "data": {"name": "labels"},
      "transform": [{"filter": "datum.kind == 'gear'"}],
      "mark": {"type": "point", "shape": "circle", "filled": false, "size": 81, "opacity": 1, "stroke": "#d4d4d4", "strokeWidth": 2.5}
    }
  ]
}
